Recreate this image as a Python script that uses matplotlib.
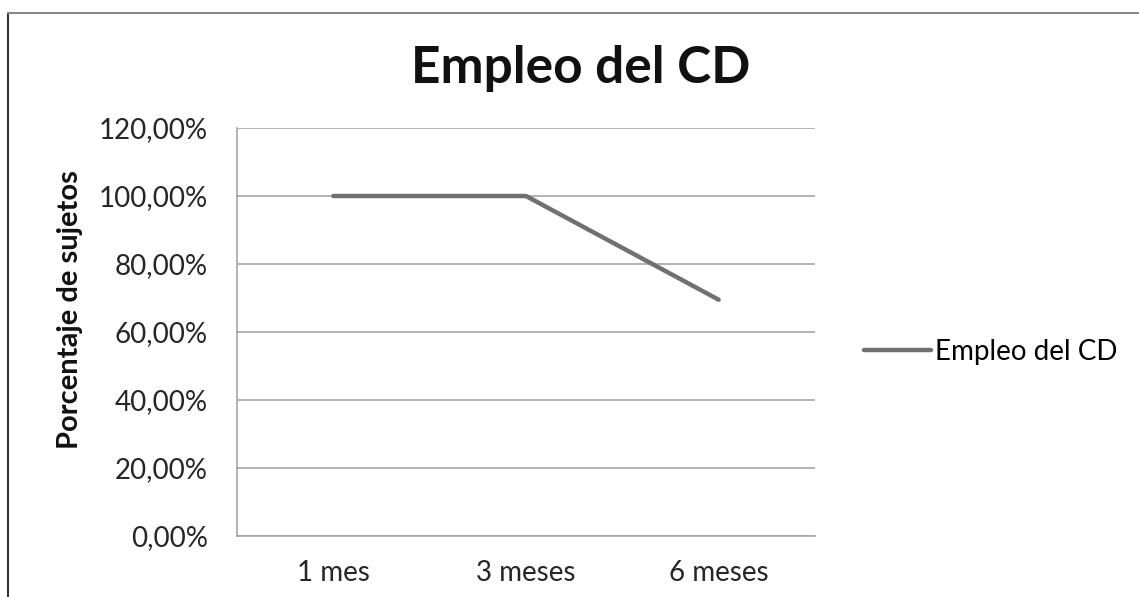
import matplotlib
matplotlib.use("Agg")
import matplotlib.pyplot as plt
from matplotlib.lines import Line2D

# data
categories = ["1 mes", "3 meses", "6 meses"]
values = [1.00, 1.00, 0.695]
yticks = [0.0, 0.2, 0.4, 0.6, 0.8, 1.0, 1.2]
serie = "Empleo del CD"

plt.rcParams['font.family'] = ['Lato', 'DejaVu Sans']

W, H = 1139, 597
fig = plt.figure(figsize=(W / 100, H / 100), dpi=100)
ax = fig.add_axes([237 / W, 61 / H, 578 / W, 408 / H])

x = list(range(len(categories)))
ax.plot(x, values, color='#707070', lw=3.2, solid_capstyle='round', label=serie)

ax.set_xlim(-0.5, len(categories) - 0.5)
ax.set_ylim(0, 1.2)
ax.set_yticks(yticks)
ax.set_yticklabels([("%.2f%%" % (v * 100)).replace('.', ',') for v in yticks])
ax.set_xticks(x)
ax.set_xticklabels(categories)
ax.tick_params(length=0, labelsize=20, colors='#262626')
ax.tick_params(axis='y', pad=21)
ax.tick_params(axis='x', pad=17)
ax.grid(axis='y', color='#a6a6a6', lw=1.2)
ax.set_axisbelow(True)
for s in ['top', 'right']:
    ax.spines[s].set_visible(False)
for s in ['left', 'bottom']:
    ax.spines[s].set_color('#a6a6a6')
    ax.spines[s].set_linewidth(1.2)

ax.set_ylabel("Porcentaje de sujetos", fontsize=21, fontweight='bold', color='#111111')
ax.yaxis.label.set_va('center')
ax.yaxis.set_label_coords((70 - 237) / 578, (536 - 310) / 408)
fig.text(581 / W, 1 - 68 / H, "Empleo del CD", fontsize=37, fontweight='bold',
         ha='center', va='center', color='#111111')

ax.legend(loc='center left', bbox_to_anchor=(850 / W, 1 - 352 / H),
          bbox_transform=fig.transFigure, frameon=False, fontsize=20,
          handlelength=2.4, handletextpad=0.15, borderpad=0)

# chart border (left and top edges visible)
fig.add_artist(Line2D([8 / W, 8 / W], [0, 1 - 13 / H], transform=fig.transFigure,
                      color='#333333', lw=1.5))
fig.add_artist(Line2D([8 / W, 1], [1 - 13 / H, 1 - 13 / H], transform=fig.transFigure,
                      color='#888888', lw=1.5))

fig.savefig("out.png", dpi=100)
